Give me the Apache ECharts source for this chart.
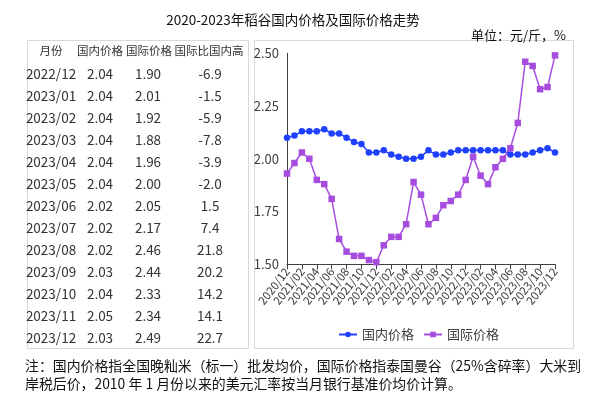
<!DOCTYPE html>
<html>
<head>
<meta charset="utf-8">
<script src="https://cdn.jsdelivr.net/npm/echarts@6/dist/echarts.min.js"></script>
<style>
html,body{margin:0;padding:0;background:#fff;}
#c{width:605px;height:395px;}
</style>
</head>
<body>
<div id="c"></div>
<script>
// ---- chart data ----
const months = [
  '2020/12','2021/01','2021/02','2021/03','2021/04','2021/05','2021/06','2021/07','2021/08','2021/09','2021/10','2021/11',
  '2021/12','2022/01','2022/02','2022/03','2022/04','2022/05','2022/06','2022/07','2022/08','2022/09','2022/10','2022/11',
  '2022/12','2023/01','2023/02','2023/03','2023/04','2023/05','2023/06','2023/07','2023/08','2023/09','2023/10','2023/11','2023/12'
];
const domestic = [
  2.10,2.11,2.13,2.13,2.13,2.14,2.12,2.12,2.10,2.08,2.07,2.03,
  2.03,2.04,2.02,2.01,2.00,2.00,2.01,2.04,2.02,2.02,2.03,2.04,
  2.04,2.04,2.04,2.04,2.04,2.04,2.02,2.02,2.02,2.03,2.04,2.05,2.03
];
const international = [
  1.93,1.98,2.03,2.00,1.90,1.88,1.81,1.62,1.56,1.54,1.54,1.52,
  1.51,1.59,1.63,1.63,1.69,1.89,1.83,1.69,1.72,1.78,1.80,1.83,
  1.90,2.01,1.92,1.88,1.96,2.00,2.05,2.17,2.46,2.44,2.33,2.34,2.49
];
const yTicks = [1.50, 1.75, 2.00, 2.25, 2.50];

// ---- table data ----
const tableHeader = ['月份','国内价格','国际价格','国际比国内高'];
const tableMonths = ['2022/12','2023/01','2023/02','2023/03','2023/04','2023/05','2023/06','2023/07','2023/08','2023/09','2023/10','2023/11','2023/12'];
const tableDomestic = ['2.04','2.04','2.04','2.04','2.04','2.04','2.02','2.02','2.02','2.03','2.04','2.05','2.03'];
const tableIntl = ['1.90','2.01','1.92','1.88','1.96','2.00','2.05','2.17','2.46','2.44','2.33','2.34','2.49'];
const tableDiff = ['-6.9','-1.5','-5.9','-7.8','-3.9','-2.0','1.5','7.4','21.8','20.2','14.2','14.1','22.7'];

const noteLine1 = '注：国内价格指全国晚籼米（标一）批发均价，国际价格指泰国曼谷（25%含碎率）大米到';
const noteLine2 = '岸税后价，2010 年 1 月份以来的美元汇率按当月银行基准价均价计算。';

const FONT = '"Noto Sans CJK SC", "Noto Sans", sans-serif';
const BLUE = '#2040ff';
const PURPLE = '#a64de0';
const TXT = '#333333';

const graphics = [];
// frames
graphics.push({type:'rect', shape:{x:27.5,y:40.5,width:221,height:308}, style:{fill:'none',stroke:'#d9d9d9',lineWidth:1}, z:0});
graphics.push({type:'rect', shape:{x:254.5,y:40.5,width:319,height:308}, style:{fill:'none',stroke:'#d9d9d9',lineWidth:1}, z:0});

// table
const headX = [51, 100, 149, 209];
const colX = [51, 100, 148, 210];
const headerY = 51;
const rowH = 22.05;
tableHeader.forEach((h,i)=>{
  graphics.push({type:'text', x:headX[i], y:headerY, style:{text:h, font:'11.5px '+FONT, fill:TXT, align:'center', verticalAlign:'middle'}});
});
const cols = [tableMonths, tableDomestic, tableIntl, tableDiff];
tableMonths.forEach((m,r)=>{
  const y = 73.5 + r*rowH;
  cols.forEach((col,i)=>{
    graphics.push({type:'text', x:colX[i], y:y, style:{text:col[r], font:'13.5px '+FONT, fill:TXT, align:'center', verticalAlign:'middle'}});
  });
});

// footnote
graphics.push({type:'text', x:25, y:366, style:{text:noteLine1, font:'13.9px '+FONT, fill:'#111', align:'left', verticalAlign:'middle'}});
graphics.push({type:'text', x:25, y:384, style:{text:noteLine2, font:'13.9px '+FONT, fill:'#111', align:'left', verticalAlign:'middle'}});

const chart = echarts.init(document.getElementById('c'), null, {renderer:'canvas'});
chart.setOption({
  backgroundColor:'#ffffff',
  animation:false,
  title:[
    {text:'2020-2023年稻谷国内价格及国际价格走势', left:288, top:8, textAlign:'center',
     textStyle:{fontSize:13.5, fontWeight:'normal', color:'#111', fontFamily:FONT}},
    {text:'单位：元/斤，%', right:34, top:24,
     textStyle:{fontSize:13, fontWeight:'normal', color:'#111', fontFamily:FONT}}
  ],
  graphic: graphics,
  legend:{
    left:333, top:323, itemWidth:18, itemHeight:7, itemGap:9,
    textStyle:{fontSize:13, color:'#404040', fontFamily:FONT},
    data:['国内价格','国际价格']
  },
  grid:{left:287, right:50, top:53.3, bottom:130.7, containLabel:false},
  xAxis:{
    type:'category', data:months, boundaryGap:false,
    axisLine:{lineStyle:{color:'#404040'}},
    axisTick:{interval:1, length:5, lineStyle:{color:'#404040'}},
    axisLabel:{interval:0, rotate:52, fontSize:11.5, color:'#404040', fontFamily:FONT, margin:5,
      hideOverlap:false,
      formatter:(v, i)=> (i % 2 === 0 ? v : '')}
  },
  yAxis:{
    type:'value', min:1.5, max:2.5, interval:0.25,
    axisLine:{show:true, lineStyle:{color:'#404040'}},
    axisTick:{show:false},
    splitLine:{show:false},
    axisLabel:{fontSize:13, color:'#404040', fontFamily:FONT, margin:8,
      formatter:(v)=>{ const t = yTicks.find(x=>Math.abs(x-v)<1e-6); return t!==undefined ? t.toFixed(2) : ''; }}
  },
  series:[
    {name:'国内价格', type:'line', data:domestic, symbol:'circle', symbolSize:6.5, showAllSymbol:true,
     itemStyle:{color:BLUE}, lineStyle:{color:BLUE, width:1.5}},
    {name:'国际价格', type:'line', data:international, symbol:'rect', symbolSize:6.5, showAllSymbol:true,
     itemStyle:{color:PURPLE}, lineStyle:{color:PURPLE, width:1.5}}
  ]
});
</script>
</body>
</html>
